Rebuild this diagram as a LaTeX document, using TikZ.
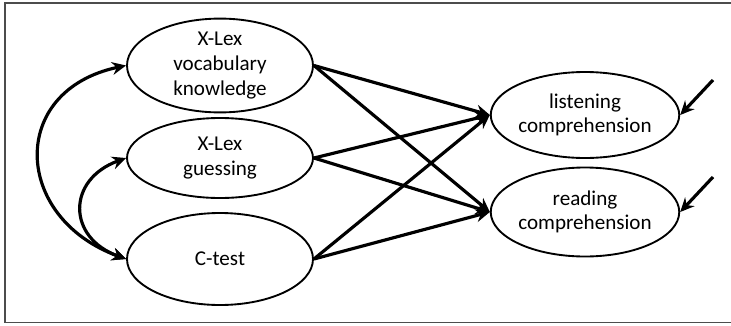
\documentclass[tikz,border=0pt]{standalone}
\usepackage{fontspec}
\setmainfont{Carlito}
\usetikzlibrary{shapes, shapes.geometric, arrows.meta, calc}

\begin{document}
\begin{tikzpicture}[
    var/.style = {ellipse, draw, line width = 1.6pt, minimum width = 5.58cm, minimum height = 2.58cm, inner sep = 0pt, align = center, font = \fontsize{18}{21}\selectfont},
    path/.style = {line width = 2.7pt, -{Stealth[length = 12pt, width = 11pt, inset = 4pt]}},
    cov/.style = {line width = 2.7pt, {Stealth[length = 12pt, width = 11pt, inset = 4pt]}-{Stealth[length = 12pt, width = 11pt, inset = 4pt]}}
]
    \useasboundingbox (0,0) rectangle (21.93,-9.75);
    \draw [line width = 1.2pt, black!70] (21.93,-0.09) -- (0.15,-0.09) -- (0.15,-9.675) -- (21.93,-9.675);

    \node (vocab) [var, minimum height = 2.55cm] at (6.6,-1.965) {X-Lex\\vocabulary\\knowledge};
    \node (guess) [var, minimum height = 2.4cm] at (6.6,-4.74) {X-Lex\\guessing};
    \node (ctest) [var, minimum height = 2.76cm] at (6.6,-7.77) {C-test};

    \node (listen) [var] at (17.55,-3.45) {listening\\comprehension};
    \node (read) [var, minimum height = 2.67cm] at (17.55,-6.36) {reading\\comprehension};

    \coordinate (e1) at (21.39,-2.4);
    \coordinate (e2) at (21.39,-5.31);

    \foreach \s in {vocab, guess, ctest}
    {
        \foreach \t in {listen, read}
        {
            \draw [path] (\s.east) -- (\t.west);
        }
    }

    \draw [path] (e1) -- (listen.east);
    \draw [path] (e2) -- (read.east);

    \draw [cov] (vocab.west) to [out = 192, in = 160, looseness = 1.6] (ctest.west);
    \draw [cov] (guess.west) to [out = 200, in = 160, looseness = 1.6] (ctest.west);
\end{tikzpicture}
\end{document}
